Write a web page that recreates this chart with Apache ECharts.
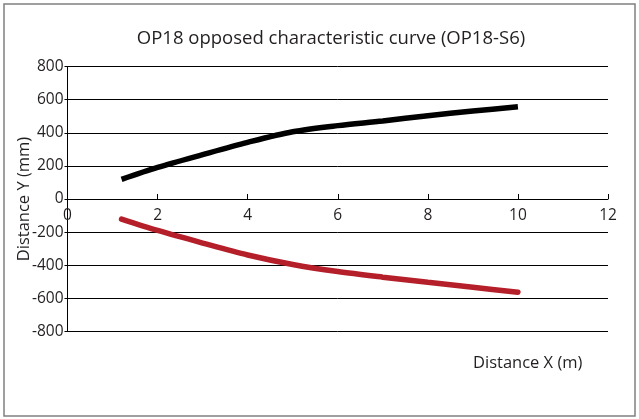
<!DOCTYPE html>
<html><head><meta charset="utf-8">
<script src="https://cdn.jsdelivr.net/npm/echarts@6/dist/echarts.min.js"></script>
<style>html,body{margin:0;padding:0;background:#fff}#c{width:639px;height:419px}</style>
</head><body><div id="c"></div>
<script>
const xValues = [1.2, 2, 3, 4, 5, 6, 7, 8, 9, 10];
const upperY = [119, 191, 268, 342, 406, 443, 471, 503, 531, 557];
const lowerY = [-121, -190, -266, -338, -395, -438, -472, -503, -533, -563];
const xTicks = [0, 2, 4, 6, 8, 10, 12];
const yTicks = [-800, -600, -400, -200, 0, 200, 400, 600, 800];

const font = '"Open Sans", "Noto Sans", sans-serif';
const txt = '#231f20';
const gridTop = 66.5, gridBottom = 87.5, H = 419;
const zeroOffset = -(H - gridTop - gridBottom) / 2;
const chart = echarts.init(document.getElementById('c'), null, {renderer: 'canvas'});
chart.setOption({
  animation: false,
  backgroundColor: '#fff',
  graphic: [{
    type: 'rect', shape: {x: 4, y: 4, width: 631, height: 412},
    style: {fill: 'none', stroke: '#808080', lineWidth: 1.5}, silent: true
  }],
  title: [{
    text: 'OP18 opposed characteristic curve (OP18-S6)',
    left: 326, top: 24, textAlign: 'center',
    textStyle: {fontFamily: font, fontSize: 18.5, fontWeight: 'normal', color: txt}
  }, {
    text: 'Distance X (m)', left: 468, top: 350,
    textStyle: {fontFamily: font, fontSize: 16.5, fontWeight: 'normal', color: txt}
  }],
  grid: {left: 67.5, right: 31, top: gridTop, bottom: gridBottom, containLabel: false, outerBoundsMode: 'none'},
  xAxis: {
    type: 'value', min: xTicks[0], max: xTicks[xTicks.length - 1], interval: 2,
    position: 'bottom', offset: zeroOffset,
    axisLine: {show: true, onZero: false, lineStyle: {color: '#000', width: 1}},
    axisTick: {show: true, inside: true, length: 5, lineStyle: {color: '#000'}},
    axisLabel: {fontFamily: font, fontSize: 15.5, color: txt, margin: 9},
    splitLine: {show: false}
  },
  yAxis: {
    type: 'value', min: yTicks[0], max: yTicks[yTicks.length - 1], interval: 200,
    axisLine: {show: true, onZero: false, lineStyle: {color: '#000', width: 1}},
    axisTick: {show: true, length: 3, lineStyle: {color: '#000'}},
    axisLabel: {fontFamily: font, fontSize: 15.5, color: txt, margin: 4},
    splitLine: {show: true, lineStyle: {color: '#000', width: 1}},
    name: 'Distance Y (mm)', nameLocation: 'middle', nameGap: 35, nameRotate: 90,
    nameMoveOverlap: false,
    nameTextStyle: {fontFamily: font, fontSize: 16.5, color: txt}
  },
  series: [
    {type: 'line', data: xValues.map((x, i) => [x, upperY[i]]), showSymbol: false,
     lineStyle: {color: '#000', width: 5.5, cap: 'butt'}, smooth: 0.3},
    {type: 'line', data: xValues.map((x, i) => [x, lowerY[i]]), showSymbol: false,
     lineStyle: {color: '#b51f29', width: 5.5, cap: 'round'}, smooth: 0.3}
  ]
});
</script></body></html>
